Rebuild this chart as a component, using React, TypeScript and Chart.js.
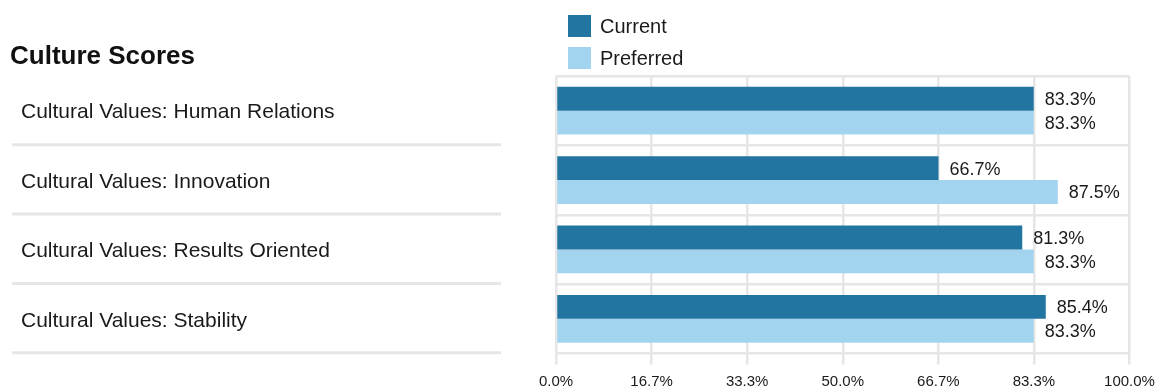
import React, { useEffect, useRef } from "react";
import { Chart, registerables } from "chart.js";

Chart.register(...registerables);

const TITLE = "Culture Scores";
const categories = [
  "Cultural Values: Human Relations",
  "Cultural Values: Innovation",
  "Cultural Values: Results Oriented",
  "Cultural Values: Stability",
];
const seriesNames = ["Current", "Preferred"];
const currentValues = [83.3, 66.7, 81.3, 85.4];
const preferredValues = [83.3, 87.5, 83.3, 83.3];
const seriesColors = ["#2275a0", "#a3d4ef"];
const xTickValues = [0, 100 / 6, 200 / 6, 50, 400 / 6, 500 / 6, 100];

const FONT = "'Liberation Sans', Arial, Helvetica, sans-serif";
const GRID = "#e6e6e6";

const labelPlugin = {
  id: "valueLabels",
  afterDatasetsDraw(chart: any) {
    const ctx = chart.ctx;
    ctx.save();
    ctx.font = `18px ${FONT}`;
    ctx.fillStyle = "#1a1a1a";
    ctx.textAlign = "left";
    ctx.textBaseline = "middle";
    chart.data.datasets.forEach((ds: any, di: number) => {
      const meta = chart.getDatasetMeta(di);
      meta.data.forEach((el: any, i: number) => {
        const v = ds.data[i];
        ctx.fillText(v.toFixed(1) + "%", el.x + 11, el.y + 1.5);
      });
    });
    ctx.restore();
  },
};

const separatorPlugin = {
  id: "leftSeparators",
  afterDraw(chart: any) {
    const y = chart.scales.y;
    const ctx = chart.ctx;
    const n = categories.length;
    const half = (y.getPixelForValue(1) - y.getPixelForValue(0)) / 2;
    ctx.save();
    ctx.strokeStyle = GRID;
    ctx.lineWidth = 3;
    for (let i = 0; i < n; i++) {
      const py = y.getPixelForValue(i) + half - 0.7;
      ctx.beginPath();
      ctx.moveTo(12, py);
      ctx.lineTo(501, py);
      ctx.stroke();
    }
    ctx.restore();
  },
};

export default function App() {
  const ref = useRef<HTMLCanvasElement | null>(null);

  useEffect(() => {
    if (!ref.current) return;
    const chart = new Chart(ref.current, {
      type: "bar",
      data: {
        labels: categories,
        datasets: [
          {
            label: seriesNames[0],
            data: currentValues,
            backgroundColor: seriesColors[0],
            categoryPercentage: 0.69,
            barPercentage: 1,
          },
          {
            label: seriesNames[1],
            data: preferredValues,
            backgroundColor: seriesColors[1],
            categoryPercentage: 0.69,
            barPercentage: 1,
          },
        ],
      },
      options: {
        indexAxis: "y",
        animation: false,
        responsive: false,
        layout: { padding: { left: 21, right: 28.5, top: 76, bottom: 0 } },
        plugins: {
          legend: { display: false },
          title: { display: false },
          tooltip: { enabled: false },
        },
        scales: {
          x: {
            type: "linear",
            min: 0,
            max: 100,
            afterBuildTicks: (scale: any) => {
              scale.ticks = xTickValues.map((v) => ({ value: v }));
            },
            afterFit: (scale: any) => {
              scale.height = 34.5;
              scale.paddingLeft = 0;
              scale.paddingRight = 0;
            },
            grid: {
              color: GRID,
              lineWidth: 2.5,
              tickLength: 11,
              drawTicks: true,
            },
            border: { display: false },
            ticks: {
              padding: 8,
              color: "#1a1a1a",
              font: { family: FONT, size: 15 },
              maxRotation: 0,
              autoSkip: false,
              callback: (v: any) => Number(v).toFixed(1) + "%",
            },
          },
          y: {
            type: "category",
            afterFit: (scale: any) => {
              scale.width = 556 - 21;
              scale.paddingTop = 0;
              scale.paddingBottom = 0;
            },
            grid: {
              color: GRID,
              lineWidth: 2.5,
              drawTicks: false,
              offset: true,
            },
            border: { display: false },
            ticks: {
              crossAlign: "far",
              labelOffset: 2,
              color: "#1a1a1a",
              font: { family: FONT, size: 21 },
            },
          },
        },
      },
      plugins: [labelPlugin, separatorPlugin],
    } as any);
    return () => chart.destroy();
  }, []);

  return (
    <div
      style={{
        position: "absolute",
        left: 0,
        top: 0,
        width: 1158,
        height: 388,
        background: "#fff",
        fontFamily: FONT,
      }}
    >
      <canvas
        ref={ref}
        width={1158}
        height={388}
        style={{ position: "absolute", left: 0, top: 0, width: 1158, height: 388 }}
      />
      <div
        style={{
          position: "absolute",
          left: 10,
          top: 42,
          fontSize: 26,
          lineHeight: "26px",
          fontWeight: "bold",
          color: "#111",
          whiteSpace: "nowrap",
        }}
      >
        {TITLE}
      </div>
      {seriesNames.map((name, i) => (
        <div
          key={name}
          style={{
            position: "absolute",
            left: 568,
            top: 15 + i * 32,
            height: 22,
            display: "flex",
            alignItems: "center",
            whiteSpace: "nowrap",
          }}
        >
          <div style={{ width: 23, height: 22, background: seriesColors[i] }} />
          <span style={{ marginLeft: 9, fontSize: 20, color: "#1a1a1a" }}>{name}</span>
        </div>
      ))}
    </div>
  );
}
